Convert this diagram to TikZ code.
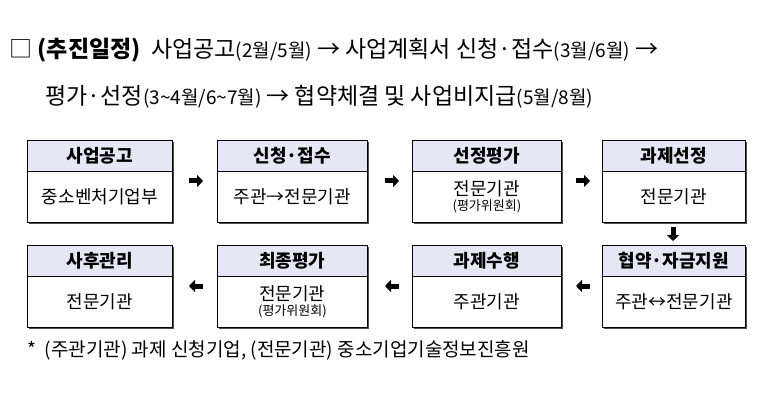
\documentclass[tikz,border=0pt]{standalone}
\usepackage{fontspec}
\setmainfont{Noto Sans CJK KR}
\usetikzlibrary{arrows.meta}
\definecolor{hdfill}{RGB}{230,230,245}
\tikzset{
 hd/.style={draw=black,fill=hdfill,line width=0.8pt,font=\bfseries\fontsize{18}{20}\selectfont,anchor=north west,inner sep=0pt},
 bd/.style={draw=black,fill=white,line width=0.8pt,anchor=north west,inner sep=0pt,align=center,font=\fontsize{18}{20}\selectfont},
 sh/.style={fill=black!70},
 ar/.style={-{Triangle[length=6pt,width=12pt]},line width=5pt,shorten >=0pt},
}
\newcommand{\stepbox}[6]{% name, x, y, w, title, body
 \fill[sh] (#2+2,#3+2) rectangle (#2+#4+2,#3+84);
 \node[hd,minimum width=#4pt,minimum height=31pt] (#1h) at (#2,#3) {#5};
 \node[bd,minimum width=#4pt,minimum height=51pt] (#1) at (#2,#3+31) {#6};
}
\begin{document}
\begin{tikzpicture}[x=1pt,y=-1pt]
\useasboundingbox (0,0) rectangle (773,406);
\node[anchor=west,font=\fontsize{23}{26}\selectfont] (t1) at (6,50) {□\ {\bfseries(추진일정)}\ \ 사업공고{\fontsize{19}{22}\selectfont(2월/5월)} → 사업계획서 신청·접수{\fontsize{19}{22}\selectfont(3월/6월)} →};
\node[anchor=west,font=\fontsize{23}{26}\selectfont] (t2) at (42,97) {평가·선정{\fontsize{19}{22}\selectfont(3\textasciitilde4월/6\textasciitilde7월)} → 협약체결 및 사업비지급{\fontsize{19}{22}\selectfont(5월/8월)}};
\stepbox{a}{27}{140}{145}{사업공고}{중소벤처기업부}
\stepbox{b}{217}{140}{150}{신청·접수}{주관→전문기관}
\stepbox{c}{412}{140}{149}{선정평가}{전문기관\\[-5pt]{\fontsize{13}{15}\selectfont(평가위원회)}}
\stepbox{d}{602}{140}{143}{과제선정}{전문기관}
\stepbox{e}{602}{245}{143}{협약·자금지원}{주관↔전문기관}
\stepbox{f}{412}{245}{149}{과제수행}{주관기관}
\stepbox{g}{217}{245}{150}{최종평가}{전문기관\\[-5pt]{\fontsize{13}{15}\selectfont(평가위원회)}}
\stepbox{h}{27}{245}{145}{사후관리}{전문기관}
\draw[ar] (189,181) -- (203,181);
\draw[ar] (385,181) -- (399,181);
\draw[ar] (576,181) -- (590,181);
\draw[ar] (673,227) -- (673,241);
\draw[ar] (590,286) -- (576,286);
\draw[ar] (399,286) -- (385,286);
\draw[ar] (203,286) -- (189,286);
\node[anchor=west,font=\fontsize{19}{22}\selectfont] (fn) at (24,350) {*\ \ (주관기관) 과제 신청기업, (전문기관) 중소기업기술정보진흥원};
\end{tikzpicture}
\end{document}
